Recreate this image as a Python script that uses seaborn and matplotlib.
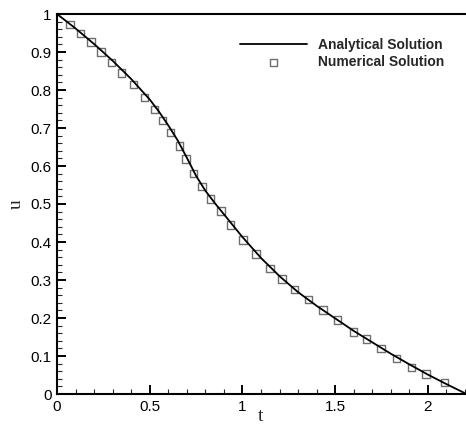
import numpy as np
import pandas as pd
import matplotlib
matplotlib.use('Agg')
import matplotlib.pyplot as plt
from matplotlib.ticker import MultipleLocator, FormatStrFormatter
import seaborn as sns

# analytical curve
t_exact = [0.0, 0.1, 0.2, 0.3, 0.4, 0.5, 0.55, 0.6, 0.65, 0.7, 0.75, 0.8, 0.85,
           0.9, 1.0, 1.1, 1.2, 1.3, 1.4, 1.5, 1.6, 1.7, 1.8, 1.9, 2.0, 2.1, 2.2]
u_exact = [1.0, 0.962, 0.921, 0.877, 0.829, 0.775, 0.743, 0.707, 0.668, 0.622,
           0.574, 0.535, 0.503, 0.473, 0.413, 0.358, 0.31, 0.268, 0.232, 0.199,
           0.166, 0.136, 0.106, 0.078, 0.051, 0.026, 0.002]

# numerical solution (square markers)
t_num = [0.070, 0.128, 0.183, 0.237, 0.295, 0.347, 0.412, 0.471, 0.525, 0.568,
         0.613, 0.660, 0.696, 0.735, 0.782, 0.827, 0.885, 0.937, 1.002, 1.073,
         1.149, 1.214, 1.280, 1.355, 1.435, 1.513, 1.600, 1.670, 1.748, 1.832,
         1.913, 1.990, 2.089]
u_num = [0.972, 0.949, 0.926, 0.900, 0.872, 0.845, 0.814, 0.780, 0.749, 0.719,
         0.688, 0.653, 0.618, 0.581, 0.546, 0.513, 0.482, 0.445, 0.405, 0.368,
         0.331, 0.303, 0.275, 0.248, 0.221, 0.195, 0.163, 0.145, 0.120, 0.093,
         0.070, 0.053, 0.030]

df_exact = pd.DataFrame({'t': t_exact, 'u': u_exact})
df_num = pd.DataFrame({'t': t_num, 'u': u_num})

sns.set_style('ticks')
plt.rcParams['font.family'] = ['Liberation Sans', 'DejaVu Sans']

fig = plt.figure(figsize=(4.66, 4.30), dpi=100)
ax = fig.add_axes([57/466, 36/430, 408/466, 380/430])

sns.lineplot(data=df_exact, x='t', y='u', ax=ax, color='black', lw=1.3,
             label='Analytical Solution')
sns.scatterplot(data=df_num, x='t', y='u', ax=ax, marker='s', s=28,
                facecolor='none', edgecolor='#6e6e6e', linewidth=1.0,
                label='Numerical Solution')

ax.set_xlim(0, 2.2)
ax.set_ylim(0, 1)
ax.xaxis.set_major_locator(MultipleLocator(0.5))
ax.xaxis.set_minor_locator(MultipleLocator(0.1))
ax.yaxis.set_major_locator(MultipleLocator(0.1))
ax.yaxis.set_minor_locator(MultipleLocator(0.02))
ax.xaxis.set_major_formatter(FormatStrFormatter('%g'))
ax.yaxis.set_major_formatter(FormatStrFormatter('%g'))
ax.tick_params(which='major', direction='in', length=6.5, width=1.4,
               labelsize=11, colors='black', pad=4)
ax.tick_params(which='minor', direction='in', length=3.5, width=0.8)

for s in ['left', 'bottom', 'top']:
    ax.spines[s].set_visible(True)
    ax.spines[s].set_linewidth(1.5)
    ax.spines[s].set_color('black')
ax.spines['right'].set_visible(False)

ax.set_xlabel('t', family='Liberation Serif', fontsize=14, labelpad=-4)
ax.set_ylabel('u', family='Liberation Serif', fontsize=14, labelpad=4)

ax.legend(loc='upper left', bbox_to_anchor=(240/466, 1 - 38/430),
          bbox_transform=fig.transFigure, frameon=False, borderpad=0,
          borderaxespad=0, handlelength=4.8, handletextpad=0.85,
          labelspacing=0.22, prop={'weight': 'bold', 'size': 10})

plt.savefig('out.png', dpi=100)
